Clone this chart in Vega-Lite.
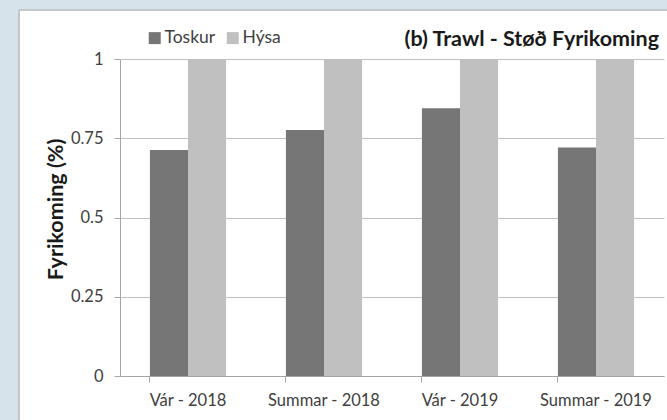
{
  "$schema": "https://vega.github.io/schema/vega-lite/v6.json",
  "autosize": {"type": "none"},
  "width": 544,
  "height": 317,
  "padding": {"left": 120, "top": 59, "right": 3, "bottom": 44},
  "background": "white",
  "config": {
    "font": "Lato",
    "view": {"stroke": null},
    "axis": {"labelColor": "#404040", "labelFontSize": 16.5, "titleColor": "#1a1a1a"}
  },
  "title": {
    "text": "(b) Trawl - Støð Fyrikoming",
    "anchor": "end",
    "frame": "group",
    "fontSize": 21.5,
    "fontWeight": "bold",
    "color": "#1a1a1a",
    "baseline": "alphabetic",
    "offset": -67,
    "dx": -5,
    "font": "Lato"
  },
  "data": {
    "values": [
      {"period": "Vár - 2018", "species": "Toskur", "value": 0.713},
      {"period": "Vár - 2018", "species": "Hýsa", "value": 1},
      {"period": "Summar - 2018", "species": "Toskur", "value": 0.776},
      {"period": "Summar - 2018", "species": "Hýsa", "value": 1},
      {"period": "Vár - 2019", "species": "Toskur", "value": 0.845},
      {"period": "Vár - 2019", "species": "Hýsa", "value": 1},
      {"period": "Summar - 2019", "species": "Toskur", "value": 0.721},
      {"period": "Summar - 2019", "species": "Hýsa", "value": 1}
    ]
  },
  "layer": [
    {
      "layer": [
        {
          "mark": {"type": "rect", "fill": "#d6e3eb", "clip": false},
          "encoding": {
            "x": {"datum": -0.2206, "type": "quantitative", "scale": {"domain": [0, 1], "zero": false, "nice": false}, "axis": null},
            "x2": {"datum": -0.1857},
            "y": {"datum": 1.1861, "type": "quantitative", "scale": {"domain": [0, 1], "nice": false}, "axis": null},
            "y2": {"datum": -0.1388}
          }
        },
        {
          "mark": {"type": "rect", "fill": "#d6e3eb", "clip": false},
          "encoding": {
            "x": {"datum": -0.2206, "type": "quantitative"},
            "x2": {"datum": 1.0055},
            "y": {"datum": 1.1861, "type": "quantitative"},
            "y2": {"datum": 1.1546}
          }
        },
        {
          "mark": {"type": "rule", "color": "#c4c8cc", "strokeWidth": 1, "clip": false},
          "encoding": {
            "x": {"datum": -0.1857, "type": "quantitative"},
            "y": {"datum": 1.1546, "type": "quantitative"},
            "y2": {"datum": -0.1388}
          }
        },
        {
          "mark": {"type": "rule", "color": "#c4c8cc", "strokeWidth": 1, "clip": false},
          "encoding": {
            "x": {"datum": -0.1857, "type": "quantitative"},
            "x2": {"datum": 1.0055},
            "y": {"datum": 1.1546, "type": "quantitative"}
          }
        }
      ]
    },
    {
      "mark": {"type": "bar"},
      "encoding": {
        "x": {
          "field": "period",
          "type": "nominal",
          "sort": ["Vár - 2018", "Summar - 2018", "Vár - 2019", "Summar - 2019"],
          "scale": {"paddingInner": 0.44, "paddingOuter": 0.22},
          "axis": {
            "orient": "bottom",
            "title": null,
            "labelAngle": 0,
            "bandPosition": 0,
            "domainColor": "#a6a6a6",
            "tickColor": "#a6a6a6",
            "tickSize": 6,
            "labelPadding": 10,
            "labelColor": "#404040"
          }
        },
        "xOffset": {
          "field": "species",
          "type": "nominal",
          "sort": ["Toskur", "Hýsa"],
          "scale": {"paddingInner": 0, "paddingOuter": 0}
        },
        "y": {
          "field": "value",
          "type": "quantitative",
          "scale": {"domain": [0, 1], "nice": false},
          "axis": {
            "orient": "left",
            "title": "Fyrikoming (%)",
            "titleFontSize": 21.5,
            "titleFontWeight": "bold",
            "titlePadding": 3,
            "titleY": 150,
            "values": [0, 0.25, 0.5, 0.75, 1],
            "labelExpr": "format(datum.value, '~g')",
            "domainColor": "#a6a6a6",
            "tickColor": "#a6a6a6",
            "tickSize": 6,
            "labelPadding": 11,
            "gridColor": "#bfbfbf",
            "grid": true
          }
        },
        "color": {
          "field": "species",
          "type": "nominal",
          "sort": ["Toskur", "Hýsa"],
          "scale": {"domain": ["Toskur", "Hýsa"], "range": ["#767676", "#c0c0c0"]},
          "legend": {
            "title": null,
            "orient": "none",
            "direction": "horizontal",
            "legendX": 26,
            "legendY": -30,
            "symbolType": "square",
            "symbolSize": 144,
            "symbolStrokeWidth": 0,
            "labelFontSize": 17.5,
            "labelColor": "#404040",
            "labelOffset": 1,
            "columnPadding": 8
          }
        }
      }
    }
  ],
  "resolve": {"scale": {"x": "independent", "y": "independent"}, "axis": {"x": "independent", "y": "independent"}}
}
